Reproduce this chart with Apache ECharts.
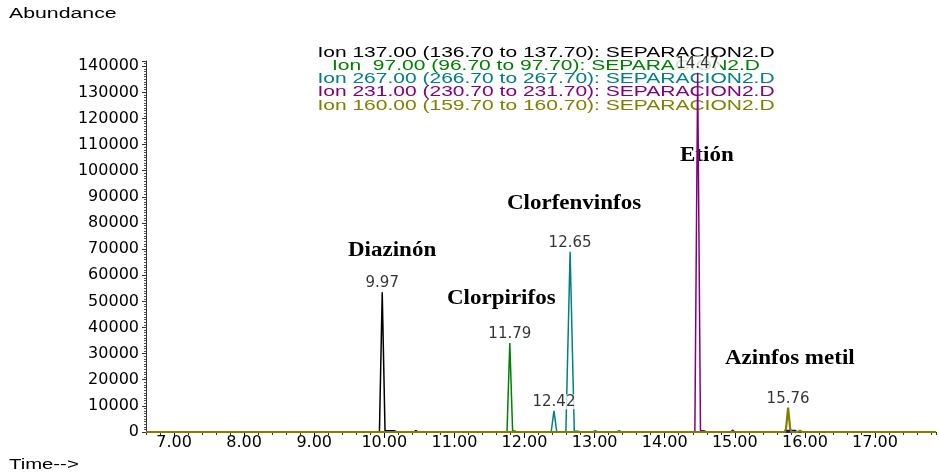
<!DOCTYPE html>
<html>
<head>
<meta charset="utf-8">
<script src="https://cdn.jsdelivr.net/npm/echarts@6/dist/echarts.min.js"></script>
<style>
html,body{margin:0;padding:0;background:#fff;}
#chart{width:939px;height:476px;}
</style>
</head>
<body>
<div id="chart"></div>
<script>
// ---- data (retention time in min, abundance) ----
const xRange = [6.6, 17.87];
const yRange = [0, 142000];
const xMajorTicks = [7, 8, 9, 10, 11, 12, 13, 14, 15, 16, 17];

const ion137 = [[6.6,0],[9.93,0],[9.97,53500],[10.01,500],[10.14,500],[10.18,0],[10.42,0],[10.45,500],[10.48,0],[17.87,0]];
const ion97  = [[6.6,0],[11.75,0],[11.79,34100],[11.83,400],[11.86,400],[11.89,0],[17.87,0]];
const ion267 = [[6.6,0],[12.38,0],[12.42,8100],[12.46,0],[12.59,0],[12.65,69000],[12.71,300],[12.76,300],[12.80,0],[12.98,0],[13.01,500],[13.04,0],[13.32,0],[13.35,500],[13.38,0],[17.87,0]];
const ion231 = [[6.6,0],[14.43,0],[14.47,137500],[14.51,500],[14.56,500],[14.59,0],[14.94,0],[14.97,700],[15.00,0],[17.87,0]];
const ion160 = [[6.6,0],[15.71,0],[15.73,1200],[15.76,9300],[15.79,1200],[15.81,0],[15.90,0],[15.93,500],[15.96,0],[17.87,0]];
const ionOther = [[6.6,0],[15.70,0],[15.73,600],[15.86,600],[15.89,0],[17.87,0]];

const peakTimes   = [9.97, 11.79, 12.42, 12.65, 14.47, 15.76];
const peakHeights = [53500, 34100, 8100, 69000, 137500, 9300];
const peakLabels  = ['9.97', '11.79', '12.42', '12.65', '14.47', '15.76'];

const legendLines = [
  'Ion 137.00 (136.70 to 137.70): SEPARACION2.D',
  'Ion  97.00 (96.70 to 97.70): SEPARACION2.D',
  'Ion 267.00 (266.70 to 267.70): SEPARACION2.D',
  'Ion 231.00 (230.70 to 231.70): SEPARACION2.D',
  'Ion 160.00 (159.70 to 160.70): SEPARACION2.D'
];
const ionColors = ['#000000', '#008000', '#008080', '#800080', '#808000'];
const compoundNames = ['Diazinón', 'Clorpirifos', 'Clorfenvinfos', 'Etión', 'Azinfos metil'];
const compoundPos = [[348,251],[447,299],[507,204],[680,156],[725,359]];

// ---- chart ----
const chart = echarts.init(document.getElementById('chart'));

function lineSeries(data, color, width) {
  return {
    type: 'line', data: data, showSymbol: false, symbol: 'none', smooth: false,
    lineStyle: { color: color, width: width }, itemStyle: { color: color },
    silent: true, animation: false
  };
}

const graphics = [];
graphics.push({ type:'text', x:9, y:14, scaleX:1.52, style:{ text:'Abundance', font:'14px "Liberation Sans"', fill:'#000', textVerticalAlign:'middle' } });
graphics.push({ type:'text', x:9, y:465, scaleX:1.45, style:{ text:'Time-->', font:'14px "Liberation Sans"', fill:'#000', textVerticalAlign:'middle' } });
legendLines.forEach(function (t, i) {
  graphics.push({ type:'text', x:546, y:53 + i*13.2, scaleX:1.5, z:0,
    style:{ text:t, font:'14px "Liberation Sans"', fill:ionColors[i], textAlign:'center', textVerticalAlign:'middle' } });
});
compoundNames.forEach(function (t, i) {
  graphics.push({ type:'text', x:compoundPos[i][0], y:compoundPos[i][1], scaleX:1.15, z:0,
    style:{ text:t, font:'bold 20px "Liberation Serif"', fill:'#000', textVerticalAlign:'middle' } });
});

const option = {
  backgroundColor: '#fff',
  animation: false,
  grid: { left: 146, right: 0, top: 61, bottom: 44, containLabel: false },
  xAxis: [{
    type: 'value', min: xRange[0], max: xRange[1], interval: 0.2,
    axisLine: { show: true, lineStyle: { color: '#000', width: 1 } },
    axisTick: { show: true, length: 3, lineStyle: { color: '#333' } },
    axisLabel: {
      show: true, interval: 0, margin: 3, color: '#000', fontSize: 16, fontFamily: 'DejaVu Sans',
      showMinLabel: true, showMaxLabel: true,
      formatter: function (v) { return Math.abs(v - Math.round(v)) < 1e-6 ? v.toFixed(2) : ''; }
    },
    splitLine: { show: false }
  }, {
    type: 'value', min: xRange[0], max: xRange[1], position: 'bottom', gridIndex: 0,
    axisLine: { show: false },
    axisTick: { show: true, length: 6, customValues: xMajorTicks, lineStyle: { color: '#000' } },
    axisLabel: { show: false },
    splitLine: { show: false }
  }],
  yAxis: {
    type: 'value', min: yRange[0], max: yRange[1], interval: 10000,
    axisLine: { show: true, lineStyle: { color: '#333', width: 1 } },
    axisTick: { show: true, length: 4, lineStyle: { color: '#333' } },
    minorTick: { show: true, splitNumber: 10, length: 2, lineStyle: { color: '#555' } },
    axisLabel: { color: '#000', fontSize: 16, fontFamily: 'DejaVu Sans', margin: 7, showMaxLabel: false,
      formatter: function (v) { return v % 10000 === 0 ? String(v) : ''; } },
    splitLine: { show: false }
  },
  graphic: graphics,
  series: [
    lineSeries(ion137, ionColors[0], 1.5),
    lineSeries(ion97, ionColors[1], 1.5),
    lineSeries(ion267, ionColors[2], 1.5),
    lineSeries(ion231, ionColors[3], 1.5),
    lineSeries(ionOther, '#000080', 1.5),
    lineSeries(ion160, ionColors[4], 2.2),
    {
      type: 'scatter', symbolSize: 1, silent: true, animation: false,
      itemStyle: { color: 'rgba(0,0,0,0)' },
      data: peakTimes.map(function (t, i) { return [t, peakHeights[i], peakLabels[i]]; }),
      label: {
        show: true, position: 'top', distance: 1, color: '#000',
        fontSize: 15, fontFamily: 'DejaVu Sans', backgroundColor: '#fff', padding: [0, 1],
        formatter: function (p) { return p.value[2]; }
      },
      z: 5
    }
  ]
};
chart.setOption(option);
</script>
</body>
</html>
